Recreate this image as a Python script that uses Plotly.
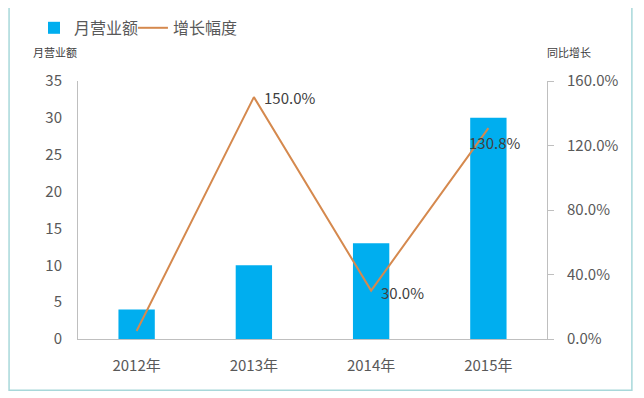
import plotly.graph_objects as go

categories = ["2012年", "2013年", "2014年", "2015年"]
revenue = [4, 10, 13, 30]
growth = [0.05, 1.50, 0.30, 1.308]
growth_labels = ["", "150.0%", "30.0%", "130.8%"]

FONT = "Noto Sans CJK SC, Microsoft YaHei, sans-serif"
TXT = "#595959"

fig = go.Figure()
fig.add_trace(go.Bar(
    x=categories, y=revenue, name="月营业额",
    marker=dict(color="#00AEEF", line=dict(width=0)),
    yaxis="y", legend="legend",
))
fig.add_trace(go.Scatter(
    x=categories, y=growth, name="增长幅度", mode="lines",
    line=dict(color="#D5894E", width=2),
    yaxis="y2", legend="legend2",
))

# label placement relative to each line point (style only)
label_style = [None,
               dict(xanchor="left", xshift=8, yshift=0),
               dict(xanchor="left", xshift=8, yshift=-2),
               dict(xanchor="center", xshift=6, yshift=-14)]

annotations = [
    dict(text="月营业额", xref="paper", yref="paper", x=-0.049, y=1.113,
         xanchor="center", yanchor="middle",
         showarrow=False, font=dict(size=11, color="#404040")),
    dict(text="同比增长", xref="paper", yref="paper", x=1.047, y=1.113,
         xanchor="center", yanchor="middle",
         showarrow=False, font=dict(size=11, color="#404040")),
]
for cat, val, lab, st in zip(categories, growth, growth_labels, label_style):
    if not lab:
        continue
    annotations.append(dict(
        text=lab, x=cat, y=val, xref="x", yref="y2", showarrow=False,
        yanchor="middle", font=dict(family=FONT, size=15, color="#404040"), **st))

legend_common = dict(orientation="h", xref="container", yref="container",
                     xanchor="left", yanchor="middle", y=0.95,
                     font=dict(size=16, color=TXT), bgcolor="rgba(0,0,0,0)")

fig.update_layout(
    width=644, height=398,
    margin=dict(l=70, r=105, t=73, b=67),
    paper_bgcolor="white", plot_bgcolor="white",
    font=dict(family=FONT, color=TXT, size=15),
    bargap=0.69,
    showlegend=True,
    legend=dict(x=0.0404, **legend_common),
    legend2=dict(x=0.194, **legend_common),
    xaxis=dict(showline=True, linecolor="#BFBFBF", linewidth=1, showgrid=False,
               ticks="", ticklabelstandoff=13, tickfont=dict(size=15, color=TXT)),
    yaxis=dict(range=[0, 35], dtick=5, showgrid=False, zeroline=False,
               showline=True, linecolor="#BFBFBF", linewidth=1, ticks="",
               ticklabelstandoff=12, tickfont=dict(size=15, color=TXT)),
    yaxis2=dict(range=[0, 1.6], dtick=0.4, tickformat=".1%", overlaying="y",
                side="right", showgrid=False, zeroline=False, showline=True,
                linecolor="#BFBFBF", linewidth=1, ticks="outside", ticklen=6,
                tickcolor="#BFBFBF", ticklabelstandoff=10,
                tickfont=dict(size=15, color=TXT)),
    shapes=[dict(type="rect", xref="paper", yref="paper",
                 x0=-0.147, x1=1.181, y0=-0.199, y1=1.287,
                 line=dict(color="#A8D8DA", width=1.5), fillcolor="rgba(0,0,0,0)",
                 layer="below")],
    annotations=annotations,
)

fig.write_html("out.html")
